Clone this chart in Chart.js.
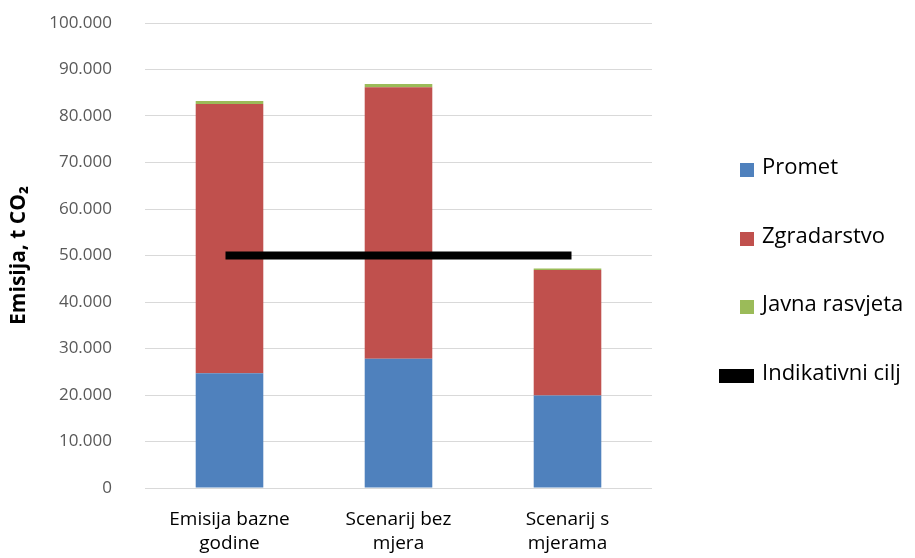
<!DOCTYPE html>
<html>
<head>
<meta charset="utf-8">
<script src="https://cdn.jsdelivr.net/npm/chart.js@4/dist/chart.umd.min.js"></script>
<style>
  html, body { margin: 0; padding: 0; background: #fff; }
  #wrap { width: 915px; height: 558px; position: relative; }
</style>
</head>
<body>
<div id="wrap"><canvas id="c" width="915" height="558"></canvas></div>
<script>
// Emisije CO2 po sektorima (t CO2)
const categories = [["Emisija bazne", "godine"], ["Scenarij bez", "mjera"], ["Scenarij s", "mjerama"]];
const promet = [24700, 27800, 19900];
const zgradarstvo = [57900, 58400, 27000];
const javnaRasvjeta = [600, 700, 300];
const indikativniCilj = [50000, 50000, 50000];

const FONT = "'Open Sans', Lato, 'DejaVu Sans', sans-serif";

// Legenda s desne strane: kvadrati za stupce, šira traka za liniju
const sideLegend = {
  id: 'sideLegend',
  afterDraw(chart) {
    const ctx = chart.ctx;
    const items = chart.data.datasets;
    const ys = [170, 239, 307, 376];
    ctx.save();
    ctx.font = "22px " + FONT;
    ctx.textBaseline = 'middle';
    ctx.textAlign = 'left';
    items.forEach((ds, i) => {
      const y = ys[i];
      ctx.fillStyle = ds.type === 'line' ? ds.borderColor : ds.backgroundColor;
      if (ds.type === 'line') {
        ctx.fillRect(719, y - 7, 35, 14);
      } else {
        ctx.fillRect(740, y - 7, 14, 14);
      }
      ctx.fillStyle = '#000';
      ctx.fillText(ds.label, 762, y - 2);
    });
    ctx.restore();
  }
};

new Chart(document.getElementById('c'), {
  data: {
    labels: categories,
    datasets: [
      { type: 'bar', label: 'Promet', data: promet, backgroundColor: '#4F81BD', stack: 's', order: 1 },
      { type: 'bar', label: 'Zgradarstvo', data: zgradarstvo, backgroundColor: '#C0504D', stack: 's', order: 1 },
      { type: 'bar', label: 'Javna rasvjeta', data: javnaRasvjeta, backgroundColor: '#9BBB59', stack: 's', order: 1 },
      { type: 'line', label: 'Indikativni cilj', data: indikativniCilj, borderColor: '#000000', backgroundColor: '#000000',
        borderWidth: 8, pointRadius: 0, borderCapStyle: 'square', stack: 'cilj', order: 0 }
    ]
  },
  options: {
    responsive: false,
    animation: false,
    layout: { padding: { left: 6, right: 263, top: 23, bottom: 0 } },
    datasets: { bar: { categoryPercentage: 0.8, barPercentage: 0.5 } },
    plugins: { legend: { display: false }, tooltip: { enabled: false } },
    scales: {
      x: {
        stacked: true,
        grid: { display: false, drawTicks: false },
        border: { display: false },
        ticks: { color: '#000', font: { family: FONT, size: 19, lineHeight: 1.25 }, padding: 20, maxRotation: 0 },
        afterFit(scale) { scale.height = 70; }
      },
      y: {
        stacked: true,
        min: 0, max: 100000,
        grid: { color: '#d9d9d9', lineWidth: 1, drawTicks: false },
        border: { display: false },
        ticks: {
          stepSize: 10000, color: '#595959', padding: 33,
          font: { family: FONT, size: 17 },
          callback: v => v.toLocaleString('de-DE')
        },
        title: { display: true, text: 'Emisija, t CO₂', color: '#000', font: { family: FONT, size: 21, weight: 'bold' }, padding: 0 },
        afterFit(scale) {
          scale.width = 139;
          scale.paddingTop = 10;
          scale.paddingBottom = 10;
        }
      }
    }
  },
  plugins: [sideLegend]
});
</script>
</body>
</html>
